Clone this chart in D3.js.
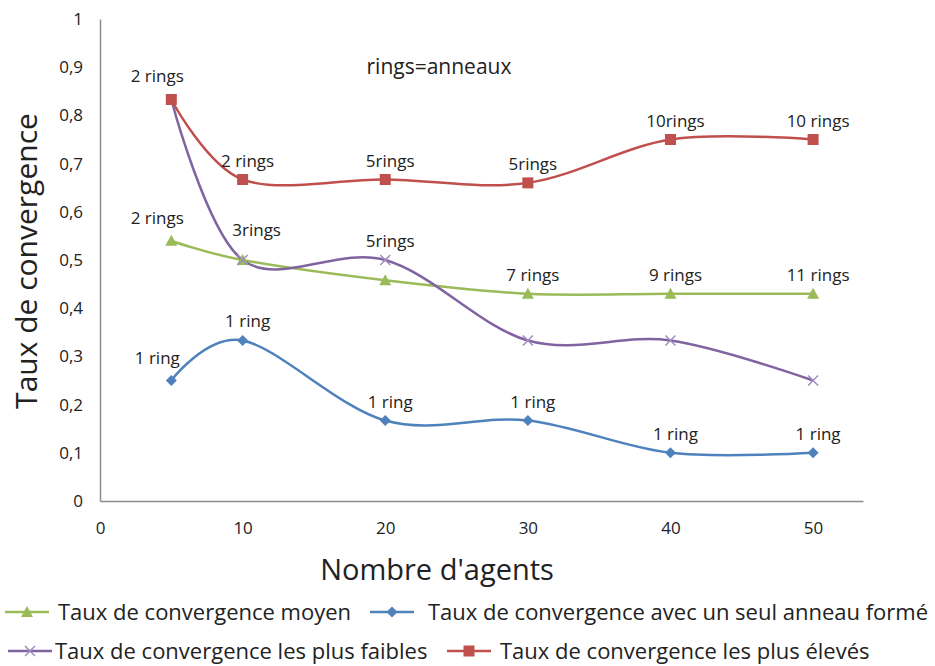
<!DOCTYPE html>
<html>
<head>
<meta charset="utf-8">
<script src="https://cdn.jsdelivr.net/npm/d3@7"></script>
<style>
  body { margin: 0; background: #fff; }
  svg { font-family: "Open Sans", "Noto Sans", sans-serif; }
</style>
</head>
<body>
<svg id="chart" width="935" height="666"></svg>
<script>
// number of agents
const agents = [5, 10, 20, 30, 40, 50];
const xTicks = [0, 10, 20, 30, 40, 50];
const yTicks = [0, 0.1, 0.2, 0.3, 0.4, 0.5, 0.6, 0.7, 0.8, 0.9, 1];

const moyen = [0.54, 0.5, 0.458, 0.43, 0.43, 0.43];
const seulAnneau = [0.25, 0.333, 0.167, 0.167, 0.1, 0.1];
const faibles = [0.833, 0.5, 0.5, 0.333, 0.333, 0.25];
const eleves = [0.833, 0.667, 0.667, 0.66, 0.75, 0.75];

const moyenLabels = ["2 rings", "3rings", "", "7 rings", "9 rings", "11 rings"];
const seulLabels = ["1 ring", "1 ring", "1 ring", "1 ring", "1 ring", "1 ring"];
const faiblesLabels = ["", "", "5rings", "", "", ""];
const elevesLabels = ["2 rings", "2 rings", "5rings", "5rings", "10rings", "10 rings"];

const series = [
  { name: "Taux de convergence moyen", values: moyen, labels: moyenLabels, color: "#9BBB59", marker: "triangle" },
  { name: "Taux de convergence avec un seul anneau formé", values: seulAnneau, labels: seulLabels, color: "#4F81BD", marker: "diamond" },
  { name: "Taux de convergence les plus faibles", values: faibles, labels: faiblesLabels, color: "#8064A2", marker: "cross" },
  { name: "Taux de convergence les plus élevés", values: eleves, labels: elevesLabels, color: "#C0504D", marker: "square" }
];

const svg = d3.select("#chart");
const x = d3.scaleLinear().domain([0, 53.5]).range([100, 863]);
const y = d3.scaleLinear().domain([0, 1]).range([501, 19]);
const fmt = d => String(d).replace(".", ",");

// axes
const yAxis = svg.append("g")
  .attr("transform", `translate(${x(0)},0)`)
  .call(d3.axisLeft(y).tickValues(yTicks).tickSize(0).tickPadding(17).tickFormat(fmt));
const xAxis = svg.append("g")
  .attr("transform", `translate(0,${y(0)})`)
  .call(d3.axisBottom(x).tickValues(xTicks).tickSize(0).tickPadding(21).tickFormat(fmt));
[yAxis, xAxis].forEach(a => {
  a.select(".domain").attr("stroke", "#8c8c8c").attr("stroke-width", 1.5);
  a.selectAll("text").attr("font-size", 17).attr("fill", "#222").attr("font-family", "Open Sans, sans-serif");
});

const line = d3.line()
  .x((d, i) => x(agents[i]))
  .y(d => y(d))
  .curve(d3.curveCardinal.tension(0));

function drawMarker(g, type, color, cx, cy) {
  if (type === "square") {
    g.append("rect").attr("x", cx - 5.5).attr("y", cy - 5.5).attr("width", 11).attr("height", 11).attr("fill", color);
  } else if (type === "triangle") {
    g.append("path").attr("d", `M${cx},${cy - 6}L${cx + 6},${cy + 5}L${cx - 6},${cy + 5}Z`).attr("fill", color);
  } else if (type === "diamond") {
    g.append("path").attr("d", `M${cx},${cy - 5.5}L${cx + 5.5},${cy}L${cx},${cy + 5.5}L${cx - 5.5},${cy}Z`).attr("fill", color);
  } else {
    g.append("path").attr("d", `M${cx - 5},${cy - 5}L${cx + 5},${cy + 5}M${cx - 5},${cy + 5}L${cx + 5},${cy - 5}`)
      .attr("stroke", "#a08cc0").attr("stroke-width", 1.5);
  }
}

const plot = svg.append("g");
series.forEach(s => {
  plot.append("path")
    .attr("d", line(s.values))
    .attr("fill", "none")
    .attr("stroke", s.color)
    .attr("stroke-width", 2.5);
});
series.forEach(s => {
  const g = plot.append("g");
  s.values.forEach((v, i) => drawMarker(g, s.marker, s.color, x(agents[i]), y(v)));
});

// point labels (lifted a bit when another series sits on the same point)
series.forEach(s => {
  const shared = i => series.some(o => o !== s && Math.abs(o.values[i] - s.values[i]) < 0.02);
  plot.selectAll(null)
    .data(s.values.map((v, i) => ({ v, i, t: s.labels[i] })).filter(d => d.t))
    .enter()
    .append("text")
    .attr("x", d => x(agents[d.i]) + (d.i === 0 ? -14 : shared(d.i) ? 14 : 5))
    .attr("y", d => y(d.v) - (d.i === 0 ? 17 : shared(d.i) ? 24 : 13))
    .attr("text-anchor", "middle")
    .attr("font-size", 17)
    .attr("fill", "#222")
    .text(d => d.t);
});

svg.append("text")
  .attr("x", 439).attr("y", 74)
  .attr("text-anchor", "middle")
  .attr("font-size", 21)
  .attr("fill", "#222")
  .text("rings=anneaux");

// axis titles
svg.append("text")
  .attr("transform", "translate(37,261) rotate(-90)")
  .attr("text-anchor", "middle")
  .attr("font-size", 30)
  .attr("fill", "#222")
  .text("Taux de convergence");
svg.append("text")
  .attr("x", 437).attr("y", 580)
  .attr("text-anchor", "middle")
  .attr("font-size", 29)
  .attr("fill", "#222")
  .text("Nombre d'agents");

// legend
const legendPos = [
  { lx: 5, ty: 612, tx: 58 },
  { lx: 370, ty: 612, tx: 428 },
  { lx: 8, ty: 651, tx: 55 },
  { lx: 447, ty: 651, tx: 500 }
];
series.forEach((s, i) => {
  const p = legendPos[i];
  const g = svg.append("g");
  g.append("line")
    .attr("x1", p.lx).attr("x2", p.lx + 44)
    .attr("y1", p.ty).attr("y2", p.ty)
    .attr("stroke", s.color).attr("stroke-width", 2.5);
  drawMarker(g, s.marker, s.color, p.lx + 22, p.ty);
  g.append("text")
    .attr("x", p.tx).attr("y", p.ty)
    .attr("dy", "0.35em")
    .attr("font-size", 22)
    .attr("fill", "#222")
    .text(s.name);
});
</script>
</body>
</html>
